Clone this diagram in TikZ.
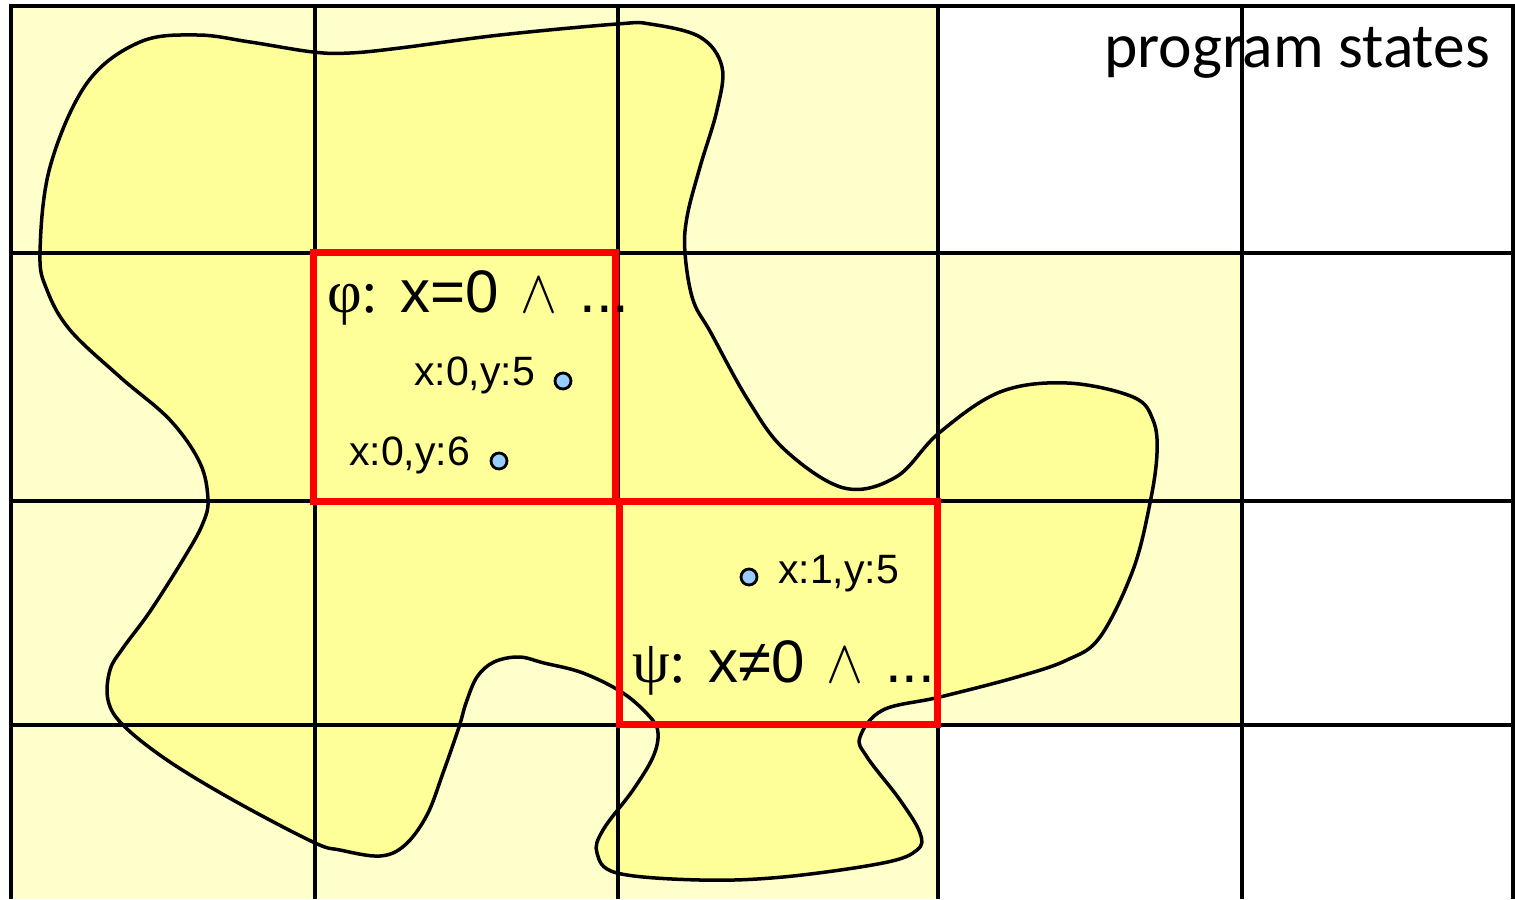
\documentclass[tikz,border=0pt]{standalone}
\usepackage{graphicx}
\usepackage{fontspec}
\setmainfont{Liberation Sans}
\newfontfamily\calib{Carlito}
\newfontfamily\tnr{Liberation Serif}
\newcommand{\myWedge}{\hspace{5bp}\resizebox{37bp}{34bp}{$\wedge$}\hspace{5bp}}
\definecolor{lightcell}{HTML}{FFFFCC}
\definecolor{blobfill}{HTML}{FFFF99}
\definecolor{dotfill}{HTML}{99CCFF}
\definecolor{redbox}{HTML}{FF0000}
\tikzset{
  gridline/.style={line width=3.5bp, black},
  blob/.style={line width=3.5bp, black, fill=blobfill},
  frame/.style={line width=7bp, redbox},
  stateDot/.style={circle, draw=black, line width=2.8bp, fill=dotfill, minimum size=16bp, inner sep=0pt},
  stateLbl/.style={anchor=base west, inner sep=0pt, font=\fontsize{41bp}{48bp}\selectfont},
  formula/.style={anchor=base west, inner sep=0pt, font=\fontsize{60bp}{70bp}\selectfont},
}
\begin{document}
\begin{tikzpicture}[x=1bp,y=-1bp]
\useasboundingbox (0,0) rectangle (1515,899);
\fill[white] (0,0) rectangle (1515,899);
% light cells
\fill[lightcell] (11,6) rectangle (938,899);
\fill[lightcell] (938,253) rectangle (1242,725);
% blob
\draw[blob] plot[smooth cycle, tension=0.6] coordinates {
 (40,253) (50,167) (87,83) (140,42) (197,35) (250,42) (313,52) (350,53) (400,48)
 (500,35) (617,24) (650,24) (700,37) (722,67) (717,110) (700,167) (687,217)
 (685,253) (693,300) (711,333) (748,400) (785,450) (844,488) (896,477) (939,433)
 (1000,392) (1067,383) (1133,397) (1153,420) (1157,453) (1150,503) (1133,570)
 (1100,637) (1067,660) (1017,677) (940,697) (883,710) (860,737) (867,757)
 (900,800) (920,833) (917,850) (883,863) (783,877) (700,880) (617,873) (597,853)
 (603,830) (633,790) (653,757) (658,733) (650,717) (623,693) (583,673) (544,663)
 (519,657) (494,662) (477,677) (466,703) (459,727) (443,773) (427,815) (405,845)
 (380,856) (340,850) (313,842) (233,800) (167,760) (123,725) (108,700) (110,670)
 (123,648) (151,610) (187,553) (203,523) (208,500) (200,463) (170,420) (120,377)
 (70,330) (47,290)
};
% grid
\foreach \gx in {11,315,618,938,1242,1513} \draw[gridline] (\gx,6) -- (\gx,899);
\draw[gridline] (9.25,6) -- (1514.75,6);
\foreach \gy in {253,501,725} \draw[gridline] (11,\gy) -- (1513,\gy);
% red boxes
\draw[frame] (313,252) rectangle (615,501);
\draw[frame] (619,501) rectangle (937,724);
% title
\node[anchor=base east, inner sep=0pt, font=\calib\fontsize{63.5bp}{70bp}\selectfont] (title) at (1490,67) {program states};
% formulas
\node[formula] (phi) at (327,312) {{\tnr φ:} x=0 \myWedge{} ...};
\node[formula] (psi) at (632,682) {{\tnr ψ:} x≠0 \myWedge{} ...};
% states
\node[stateLbl] (s1) at (414,385) {x:0,y:5};
\node[stateDot] (d1) at (563,381) {};
\node[stateLbl] (s2) at (349,465) {x:0,y:6};
\node[stateDot] (d2) at (499,461) {};
\node[stateDot] (d3) at (749,577) {};
\node[stateLbl] (s3) at (778,583) {x:1,y:5};
\end{tikzpicture}
\end{document}
